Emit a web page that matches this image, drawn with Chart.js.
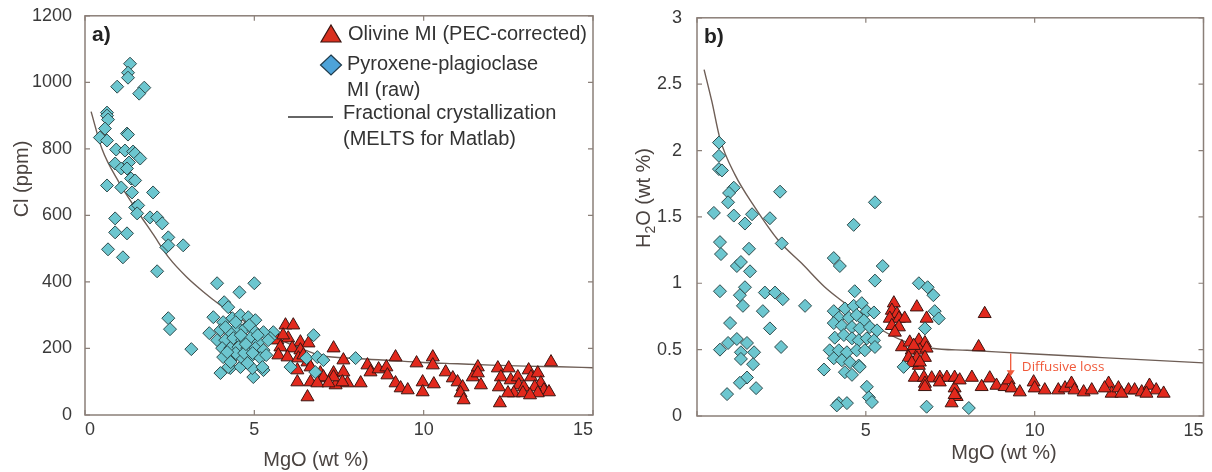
<!DOCTYPE html>
<html>
<head>
<meta charset="utf-8">
<script src="https://cdn.jsdelivr.net/npm/chart.js@4.4.0/dist/chart.umd.min.js"></script>
<style>
  html, body { margin: 0; padding: 0; background: #fff; }
  #wrap { position: relative; width: 1212px; height: 472px; }
  canvas { position: absolute; top: 0; }
  #chartA { left: 0; }
  #chartB { left: 606px; }
</style>
</head>
<body>
<div id="wrap">
  <canvas id="chartA" width="606" height="472"></canvas>
  <canvas id="chartB" width="606" height="472"></canvas>
</div>
<script>
const FONT = '"Liberation Sans", Arial, Helvetica, sans-serif';
const TXT = '#3a3a3a';
const AXIS = '#8a7f78';
const CYAN = '#6cc6cf', CYAN_EDGE = '#2f4b4c';
const RED = '#e2291d', RED_EDGE = '#3b1410';
const FC_LINE = '#6e5e56';

// ---- panel a) Cl vs MgO ----
const olMgO_a = [5.92, 6.15, 5.68, 6.0, 6.36, 6.6, 5.77, 6.12, 6.36, 7.34, 5.71, 5.98, 6.3, 6.57, 7.63, 6.27, 6.66, 6.95,
  7.34, 7.63, 6.27, 6.66, 7.04, 7.4, 7.75, 6.57, 8.34, 8.43, 8.67, 8.9, 9.17, 9.79, 10.27, 10.27, 10.65, 8.93, 9.17, 9.32,
  9.53, 9.97, 9.97, 10.3, 8.14, 10.86, 11.0, 11.15, 11.09, 11.18, 11.45, 11.6, 11.6, 11.69, 12.19, 12.28, 12.22, 12.25,
  12.51, 12.57, 12.78, 12.81, 12.66, 12.96, 13.1, 13.17, 13.37, 13.46, 13.55, 13.76, 13.7, 13.28, 12.93, 13.37, 13.14,
  12.49, 7.04, 7.34, 7.6, 6.86, 7.19, 6.45, 5.85];
const olCl = [270, 270, 225, 231, 219, 216, 204, 201, 195, 201, 180, 174, 171, 159, 165, 135, 144, 126,
  126, 129, 99, 99, 111, 90, 96, 54, 150, 129, 138, 144, 174, 156, 174, 150, 129, 120, 96, 81,
  75, 99, 69, 93, 96, 111, 99, 84, 66, 45, 114, 144, 126, 90, 141, 114, 84, 36,
  141, 105, 114, 90, 66, 84, 135, 114, 126, 96, 75, 159, 69, 84, 66, 66, 60,
  66, 114, 114, 99, 96, 96, 180, 240];

const pxMgO_a = [1.33, 1.27, 1.27, 0.95, 1.75, 1.6, 0.65, 0.65, 0.68, 0.59, 0.44, 0.65, 1.24, 1.27, 0.92, 1.18, 1.42, 1.48,
  1.63, 0.89, 1.3, 1.07, 1.24, 1.36, 1.48, 0.65, 1.07, 1.39, 2.01, 1.48, 1.57, 1.54, 1.92, 2.13, 2.28, 0.89, 0.89, 1.24,
  2.46, 0.68, 1.12, 2.4, 2.46, 2.9, 2.13, 2.46, 2.51, 3.14,
  3.9, 5.0, 4.56, 4.11, 4.23, 3.79, 3.67, 4.0, 4.29, 4.97, 4.59, 5.27, 5.56, 5.47, 4.08, 4.35, 4.59, 4.82, 5.03,
  4.0, 4.29, 4.5, 4.73, 4.97, 5.27, 3.9, 4.14, 4.38, 4.64, 4.88, 5.12, 5.41, 4.05, 4.29, 4.53, 4.79, 5.03, 5.27,
  4.08, 4.38, 4.64, 4.88, 5.18, 4.23, 4.94, 5.24, 6.07, 6.75, 6.54, 6.86, 6.8, 7.04, 7.99,
  4.45, 4.7, 4.95, 4.2, 4.6, 4.85, 4.45, 4.75, 5.1, 4.3, 4.8, 5.35, 4.15];
const pxCl = [1056, 1029, 1014, 987, 984, 966, 909, 900, 888, 861, 834, 825, 846, 843, 798, 795, 792, 786,
  771, 756, 759, 741, 741, 711, 705, 690, 684, 669, 669, 624, 630, 606, 594, 594, 576, 591, 549, 546,
  534, 498, 474, 504, 510, 510, 432, 291, 258, 198,
  396, 396, 369, 339, 324, 294, 246, 126, 141, 114, 144, 135, 249, 231, 279, 291, 300, 294, 285,
  255, 249, 264, 261, 255, 249, 225, 225, 231, 225, 231, 219, 225, 201, 201, 204, 201, 201, 195,
  174, 174, 171, 174, 171, 144, 141, 144, 144, 240, 171, 174, 129, 165, 171,
  186, 186, 186, 189, 240, 270, 279, 213, 240, 159, 156, 180, 264];

const fcMgO_a = [0.18, 0.5, 1.0, 1.5, 2.0, 2.5, 3.0, 3.5, 4.0, 4.5, 5.0, 5.5, 6.0, 6.5, 7.0, 8.0, 9.0, 10.0, 11.0, 12.0, 13.0, 14.0, 15.0];
const fcCl = [912, 800, 700, 620, 545, 470, 415, 370, 330, 295, 265, 240, 215, 195, 178, 170, 164, 158, 154, 150, 147, 145, 142];

const mgoTicks = [0, 5, 10, 15];
const mgoLabels_a = ['0', '5', '10', '15'];
const clTicks = [0, 200, 400, 600, 800, 1000, 1200];

// ---- panel b) H2O vs MgO ----
const olMgO_b = [5.83, 5.77, 5.92, 5.71, 5.98, 6.15, 5.77, 5.98, 5.86, 6.51, 6.8, 6.07, 6.3, 6.57, 6.75, 6.36, 6.6, 6.8,
  6.27, 6.51, 6.75, 6.57, 6.45, 6.72, 6.95, 7.19, 7.4, 7.63, 6.75, 7.19, 7.63, 7.69, 7.54, 8.52, 8.34, 6.42, 6.36, 6.6,
  7.78, 8.14, 8.67, 8.43, 8.87, 9.11, 9.23, 9.32, 9.56, 9.97, 10.0, 10.3, 10.7, 10.9, 11.09, 11.18, 11.45, 11.69,
  12.19, 12.28, 12.48, 12.78, 12.96, 13.17, 13.4, 13.6, 13.82, 6.75, 7.63, 12.07, 12.57, 13.31];
const olH2O = [0.85, 0.795, 0.77, 0.735, 0.735, 0.735, 0.68, 0.67, 0.63, 0.82, 0.735, 0.52, 0.555, 0.57, 0.55, 0.495, 0.495, 0.51,
  0.44, 0.435, 0.44, 0.38, 0.29, 0.29, 0.285, 0.29, 0.29, 0.29, 0.245, 0.255, 0.21, 0.145, 0.0975, 0.77, 0.52, 0.53, 0.4, 0.405,
  0.27, 0.29, 0.285, 0.22, 0.23, 0.22, 0.27, 0.21, 0.18, 0.255, 0.21, 0.195, 0.195, 0.21, 0.245, 0.195, 0.18, 0.195,
  0.245, 0.17, 0.21, 0.195, 0.195, 0.18, 0.23, 0.195, 0.17, 0.22, 0.16, 0.21, 0.17, 0.17];

const pxMgO_b = [0.65, 0.65, 0.65, 0.74, 1.09, 0.95, 0.92, 0.5, 1.09, 1.63, 1.42, 2.16, 2.46, 4.64, 5.27, 0.68, 0.71, 1.54,
  2.51, 1.18, 1.3, 1.57, 0.68, 1.42, 1.27, 1.36, 2.01, 2.31, 2.54, 1.95, 3.2, 2.16, 0.98, 0.68, 0.92, 1.18, 1.48, 1.3,
  1.69, 1.3, 1.66, 2.49, 1.48, 1.27, 1.75, 0.89, 3.76, 4.05, 4.23, 5.5, 5.27, 6.57, 6.83, 7.0, 7.04, 7.16, 6.75,
  4.2, 4.44, 5.03, 5.09, 5.18, 6.12, 6.8, 8.05, 4.67, 4.05, 4.38, 4.64, 4.88, 5.03, 5.24, 4.2, 4.5, 4.73, 4.94,
  4.05, 4.29, 4.59, 4.82, 5.12, 5.33, 4.08, 4.35, 4.59, 4.79, 5.03, 5.24, 3.93, 4.2, 4.44, 4.73, 4.97, 5.27,
  4.05, 4.29, 4.53, 4.79, 4.38, 4.59, 4.82, 4.14];
const pxH2O = [2.06, 1.96, 1.86, 1.85, 1.72, 1.68, 1.61, 1.53, 1.51, 1.52, 1.45, 1.49, 1.69, 1.44, 1.61, 1.31, 1.22, 1.26,
  1.3, 1.13, 1.16, 1.09, 0.94, 0.97, 0.91, 0.83, 0.93, 0.93, 0.88, 0.79, 0.83, 0.66, 0.7, 0.5, 0.55, 0.58, 0.55, 0.48,
  0.48, 0.43, 0.39, 0.52, 0.29, 0.25, 0.21, 0.165, 0.35, 1.19, 1.13, 1.13, 1.02, 1.0, 0.97, 0.91, 0.79, 0.735, 0.66,
  0.097, 0.097, 0.22, 0.14, 0.105, 0.37, 0.07, 0.06, 0.94, 0.79, 0.81, 0.83, 0.85, 0.79, 0.78, 0.74, 0.74, 0.76, 0.72,
  0.7, 0.68, 0.67, 0.66, 0.67, 0.645, 0.59, 0.61, 0.585, 0.57, 0.585, 0.57, 0.495, 0.495, 0.48, 0.495, 0.495, 0.52,
  0.435, 0.42, 0.405, 0.38, 0.33, 0.31, 0.37, 0.08];

const fcMgO_b = [0.21, 0.44, 0.68, 1.12, 1.72, 2.42, 3.1, 3.79, 4.38, 5.27, 6.07, 6.95, 8.0, 10.0, 12.0, 15.0];
const fcH2O = [2.61, 2.37, 2.09, 1.82, 1.57, 1.32, 1.15, 0.97, 0.85, 0.68, 0.57, 0.51, 0.495, 0.467, 0.44, 0.40];

const mgoLabels_b = ['', '5', '10', '15'];
const h2oTicks = [0, 0.5, 1, 1.5, 2, 2.5, 3];

function pts(xs, ys) {
    return xs.map((x, i) => ({ x, y: ys[i] }));
}

// box frame, inward ticks and all the MATLAB-style texts
const boxPlugin = {
    id: 'matlabBox',
    afterDraw(chart, args, o) {
        const { ctx, chartArea: a, scales: { x, y } } = chart;
        ctx.save();
        ctx.strokeStyle = AXIS;
        ctx.lineWidth = 1.5;
        ctx.strokeRect(a.left, a.top, a.right - a.left, a.bottom - a.top);
        ctx.lineWidth = 1.2;
        ctx.beginPath();
        x.ticks.forEach(t => {
            const p = x.getPixelForValue(t.value);
            ctx.moveTo(p, a.bottom); ctx.lineTo(p, a.bottom - 5);
            ctx.moveTo(p, a.top); ctx.lineTo(p, a.top + 5);
        });
        y.ticks.forEach(t => {
            const p = y.getPixelForValue(t.value);
            ctx.moveTo(a.left, p); ctx.lineTo(a.left + 5, p);
            ctx.moveTo(a.right, p); ctx.lineTo(a.right - 5, p);
        });
        ctx.stroke();

        // panel letter
        ctx.fillStyle = '#222';
        ctx.font = 'bold 21px ' + FONT;
        ctx.textAlign = 'left';
        ctx.textBaseline = 'middle';
        ctx.fillText(o.letter, a.left + 7, a.top + 19);

        // axis titles
        ctx.fillStyle = '#4a4340';
        ctx.font = '20px ' + FONT;
        ctx.textAlign = 'center';
        ctx.fillText(o.xTitle, o.xTitlePos[0], o.xTitlePos[1]);

        ctx.save();
        ctx.translate(o.yTitlePos[0], o.yTitlePos[1]);
        ctx.rotate(-Math.PI / 2);
        ctx.textAlign = 'left';
        const parts = o.yTitle;
        let total = 0;
        parts.forEach(p => {
            ctx.font = (p.sub ? '14px ' : '20px ') + FONT;
            total += ctx.measureText(p.t).width;
        });
        let cx = -total / 2;
        parts.forEach(p => {
            ctx.font = (p.sub ? '14px ' : '20px ') + FONT;
            ctx.fillText(p.t, cx, p.sub ? 7 : 0);
            cx += ctx.measureText(p.t).width;
        });
        ctx.restore();

        if (o.legend) drawLegend(ctx);
        if (o.note) drawNote(ctx, x, y);
        ctx.restore();
    }
};

function drawLegend(ctx) {
    ctx.fillStyle = '#d9301f'; ctx.strokeStyle = RED_EDGE; ctx.lineWidth = 1.2;
    ctx.beginPath();
    ctx.moveTo(331, 25); ctx.lineTo(341, 42); ctx.lineTo(321, 42); ctx.closePath();
    ctx.fill(); ctx.stroke();

    ctx.fillStyle = '#4da3d9'; ctx.strokeStyle = '#1f3a4a';
    ctx.beginPath();
    ctx.moveTo(331, 55); ctx.lineTo(341.5, 65); ctx.lineTo(331, 75); ctx.lineTo(320.5, 65); ctx.closePath();
    ctx.fill(); ctx.stroke();

    ctx.strokeStyle = '#333'; ctx.lineWidth = 1.5;
    ctx.beginPath(); ctx.moveTo(288, 117); ctx.lineTo(333, 117); ctx.stroke();

    ctx.fillStyle = '#333';
    ctx.font = '20px ' + FONT;
    ctx.textAlign = 'left';
    ctx.textBaseline = 'middle';
    ctx.fillText('Olivine MI (PEC-corrected)', 348, 34);
    ctx.fillText('Pyroxene-plagioclase', 347, 64);
    ctx.fillText('MI (raw)', 347, 90);
    ctx.fillText('Fractional crystallization', 343, 113);
    ctx.fillText('(MELTS for Matlab)', 343, 139);
}

function drawNote(ctx, x, y) {
    const ax = x.getPixelForValue(9.29);
    const y0 = y.getPixelForValue(0.47), y1 = y.getPixelForValue(0.30);
    ctx.strokeStyle = '#f0593a'; ctx.fillStyle = '#f0593a'; ctx.lineWidth = 1.3;
    ctx.beginPath(); ctx.moveTo(ax, y0); ctx.lineTo(ax, y1 - 5); ctx.stroke();
    ctx.beginPath(); ctx.moveTo(ax - 4, y1 - 6); ctx.lineTo(ax + 4, y1 - 6); ctx.lineTo(ax, y1); ctx.closePath(); ctx.fill();
    ctx.font = '13.5px "Open Sans", sans-serif';
    ctx.textAlign = 'left';
    ctx.textBaseline = 'middle';
    ctx.fillText('Diffusive loss', x.getPixelForValue(9.62), y.getPixelForValue(0.37));
}

function makeChart(id, d) {
    return new Chart(document.getElementById(id), {
        type: 'scatter',
        data: {
            datasets: [{
                label: 'Pyroxene-plagioclase MI (raw)',
                data: d.px,
                pointStyle: 'rectRot',
                pointRadius: 6.5,
                backgroundColor: CYAN,
                borderColor: CYAN_EDGE,
                borderWidth: 1,
                order: 0
            }, {
                label: 'Olivine MI (PEC-corrected)',
                data: d.ol,
                pointStyle: 'triangle',
                pointRadius: 7.5,
                backgroundColor: RED,
                borderColor: RED_EDGE,
                borderWidth: 1,
                order: 1
            }, {
                label: 'Fractional crystallization',
                data: d.fc,
                showLine: true,
                pointRadius: 0,
                borderColor: FC_LINE,
                borderWidth: 1.4,
                cubicInterpolationMode: 'monotone',
                order: 2
            }]
        },
        options: {
            responsive: false,
            animation: false,
            layout: { padding: d.padding },
            plugins: {
                legend: { display: false },
                tooltip: { enabled: false },
                matlabBox: d.box
            },
            scales: {
                x: {
                    type: 'linear', min: 0, max: 15,
                    afterFit: s => { s.height = d.xHeight; },
                    afterBuildTicks: s => { s.ticks = mgoTicks.map(v => ({ value: v })); },
                    grid: { display: false },
                    border: { display: false },
                    ticks: {
                        align: 'inner', padding: -4, color: TXT,
                        font: { family: FONT, size: 18 },
                        callback: (v) => d.xLabels[mgoTicks.indexOf(v)]
                    }
                },
                y: {
                    type: 'linear', min: d.yMin, max: d.yMax,
                    afterFit: s => { s.width = d.yWidth; },
                    afterBuildTicks: s => { s.ticks = d.yTicks.map(v => ({ value: v })); },
                    grid: { display: false },
                    border: { display: false },
                    ticks: {
                        padding: d.yPad, color: TXT,
                        font: { family: FONT, size: 18 },
                        callback: v => String(v)
                    }
                }
            }
        },
        plugins: [boxPlugin]
    });
}

makeChart('chartA', {
    px: pts(pxMgO_a, pxCl),
    ol: pts(olMgO_a, olCl),
    fc: pts(fcMgO_a, fcCl),
    padding: { top: 15, right: 13, bottom: 0, left: 0 },
    xHeight: 57, yWidth: 85, yPad: 5,
    yMin: 0, yMax: 1200, yTicks: clTicks,
    xLabels: mgoLabels_a,
    box: {
        letter: 'a)', legend: true,
        xTitle: 'MgO (wt %)', xTitlePos: [316, 460],
        yTitle: [{ t: 'Cl (ppm)' }], yTitlePos: [22, 179]
    }
});

makeChart('chartB', {
    px: pts(pxMgO_b, pxH2O),
    ol: pts(olMgO_b, olH2O),
    fc: pts(fcMgO_b, fcH2O),
    padding: { top: 16, right: 8, bottom: 0, left: 0 },
    xHeight: 56, yWidth: 91, yPad: 7,
    yMin: 0, yMax: 3, yTicks: h2oTicks,
    xLabels: mgoLabels_b,
    box: {
        letter: 'b)', note: true,
        xTitle: 'MgO (wt %)', xTitlePos: [398, 453],
        yTitle: [{ t: 'H' }, { t: '2', sub: true }, { t: 'O (wt %)' }], yTitlePos: [38, 198]
    }
});
</script>
</body>
</html>
